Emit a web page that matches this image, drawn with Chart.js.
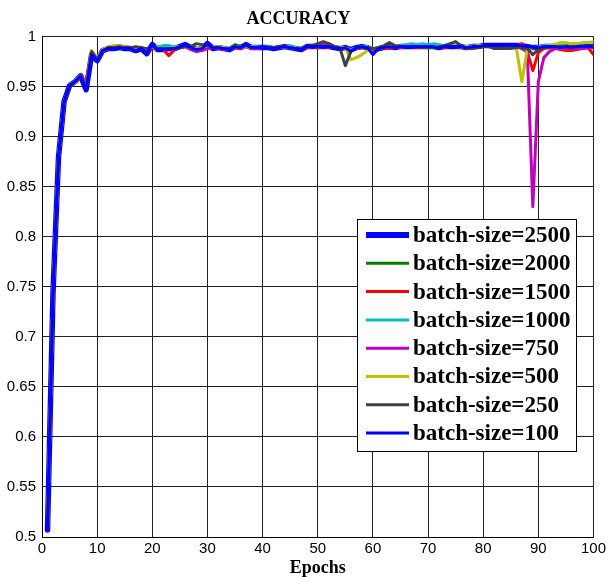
<!DOCTYPE html>
<html>
<head>
<meta charset="utf-8">
<script src="https://cdn.jsdelivr.net/npm/chart.js@4/dist/chart.umd.min.js"></script>
<style>
  body { margin: 0; background: #fff; }
  #wrap { width: 609px; height: 577px; }
</style>
</head>
<body>
<div id="wrap"><canvas id="acc"></canvas></div>
<script>
var epochs = [1,2,3,4,5,6,7,8,9,10,11,12,13,14,15,16,17,18,19,20,
  21,22,23,24,25,26,27,28,29,30,31,32,33,34,35,36,37,38,39,40,
  41,42,43,44,45,46,47,48,49,50,51,52,53,54,55,56,57,58,59,60,
  61,62,63,64,65,66,67,68,69,70,71,72,73,74,75,76,77,78,79,80,
  81,82,83,84,85,86,87,88,89,90,91,92,93,94,95,96,97,98,99,100];

var xTicks = [0, 10, 20, 30, 40, 50, 60, 70, 80, 90, 100];
var yTicks = [0.5, 0.55, 0.6, 0.65, 0.7, 0.75, 0.8, 0.85, 0.9, 0.95, 1];

var names = ['batch-size=2500', 'batch-size=2000', 'batch-size=1500', 'batch-size=1000',
  'batch-size=750', 'batch-size=500', 'batch-size=250', 'batch-size=100'];

var s2500 = [0.507,0.745,0.880,0.935,0.951,0.955,0.961,0.947,0.982,0.976,
  0.986,0.988,0.988,0.989,0.988,0.988,0.986,0.988,0.983,0.992,
  0.987,0.987,0.988,0.988,0.990,0.992,0.989,0.987,0.988,0.993,
  0.988,0.989,0.988,0.987,0.990,0.989,0.992,0.989,0.989,0.989,
  0.989,0.988,0.989,0.990,0.989,0.988,0.987,0.990,0.990,0.990,
  0.990,0.990,0.989,0.988,0.989,0.987,0.989,0.990,0.989,0.986,
  0.988,0.989,0.990,0.989,0.990,0.990,0.990,0.990,0.990,0.990,
  0.990,0.989,0.990,0.990,0.990,0.990,0.989,0.990,0.990,0.991,
  0.991,0.991,0.991,0.991,0.991,0.991,0.991,0.990,0.989,0.989,
  0.990,0.990,0.990,0.989,0.990,0.989,0.990,0.990,0.990,0.990];

var s2000 = [0.507,0.744,0.879,0.934,0.950,0.955,0.960,0.950,0.984,0.978,
  0.986,0.988,0.989,0.990,0.989,0.988,0.987,0.989,0.986,0.990,
  0.988,0.988,0.989,0.988,0.990,0.991,0.990,0.988,0.989,0.991,
  0.989,0.990,0.989,0.988,0.992,0.990,0.991,0.989,0.990,0.989,
  0.990,0.989,0.989,0.990,0.990,0.989,0.988,0.990,0.991,0.990,
  0.990,0.991,0.990,0.989,0.988,0.987,0.989,0.990,0.990,0.987,
  0.989,0.990,0.990,0.990,0.991,0.990,0.990,0.991,0.990,0.990,
  0.991,0.990,0.990,0.991,0.990,0.990,0.990,0.990,0.991,0.991,
  0.991,0.990,0.991,0.991,0.990,0.990,0.990,0.989,0.988,0.989,
  0.990,0.990,0.991,0.990,0.990,0.990,0.991,0.990,0.990,0.991];

var s1500 = [0.507,0.746,0.880,0.933,0.950,0.954,0.959,0.954,0.985,0.977,
  0.985,0.988,0.989,0.989,0.988,0.988,0.987,0.988,0.986,0.990,
  0.988,0.987,0.981,0.987,0.989,0.990,0.988,0.987,0.988,0.990,
  0.988,0.989,0.988,0.988,0.989,0.988,0.990,0.988,0.989,0.989,
  0.989,0.988,0.989,0.989,0.990,0.988,0.988,0.989,0.990,0.989,
  0.990,0.989,0.990,0.988,0.988,0.987,0.988,0.989,0.989,0.986,
  0.988,0.988,0.988,0.989,0.989,0.990,0.990,0.989,0.990,0.989,
  0.990,0.989,0.989,0.990,0.990,0.989,0.989,0.990,0.990,0.991,
  0.991,0.990,0.990,0.991,0.990,0.991,0.993,0.985,0.966,0.984,
  0.988,0.989,0.988,0.987,0.986,0.986,0.987,0.988,0.989,0.982];

var s1000 = [0.507,0.745,0.881,0.935,0.951,0.956,0.962,0.949,0.983,0.976,
  0.986,0.988,0.989,0.989,0.988,0.988,0.987,0.988,0.987,0.990,
  0.990,0.991,0.991,0.990,0.990,0.991,0.989,0.988,0.989,0.991,
  0.989,0.989,0.989,0.988,0.990,0.989,0.991,0.990,0.990,0.989,
  0.990,0.989,0.990,0.990,0.991,0.989,0.988,0.990,0.990,0.990,
  0.990,0.990,0.990,0.989,0.989,0.987,0.989,0.990,0.990,0.986,
  0.988,0.989,0.989,0.990,0.991,0.992,0.993,0.992,0.993,0.992,
  0.993,0.992,0.991,0.992,0.991,0.990,0.990,0.991,0.990,0.991,
  0.991,0.991,0.990,0.991,0.991,0.990,0.990,0.989,0.989,0.990,
  0.991,0.991,0.992,0.993,0.991,0.990,0.990,0.991,0.990,0.990];

var s750 = [0.507,0.746,0.879,0.934,0.952,0.955,0.962,0.952,0.984,0.978,
  0.986,0.989,0.990,0.991,0.990,0.989,0.987,0.988,0.985,0.989,
  0.987,0.987,0.988,0.988,0.989,0.990,0.987,0.985,0.986,0.988,
  0.988,0.988,0.987,0.987,0.989,0.988,0.990,0.988,0.988,0.989,
  0.989,0.988,0.989,0.989,0.989,0.988,0.988,0.989,0.990,0.991,
  0.992,0.993,0.990,0.989,0.988,0.986,0.988,0.989,0.989,0.986,
  0.988,0.989,0.989,0.989,0.990,0.990,0.990,0.990,0.990,0.990,
  0.990,0.989,0.990,0.990,0.990,0.990,0.989,0.990,0.990,0.990,
  0.991,0.990,0.990,0.990,0.990,0.990,0.988,0.985,0.830,0.955,
  0.979,0.985,0.988,0.988,0.989,0.988,0.988,0.988,0.989,0.989];

var s500 = [0.507,0.745,0.880,0.935,0.951,0.954,0.960,0.951,0.986,0.979,
  0.987,0.990,0.991,0.991,0.990,0.989,0.988,0.989,0.987,0.990,
  0.988,0.988,0.988,0.989,0.990,0.991,0.989,0.988,0.989,0.991,
  0.989,0.990,0.989,0.988,0.990,0.989,0.990,0.989,0.989,0.989,
  0.989,0.989,0.989,0.990,0.989,0.988,0.988,0.990,0.990,0.990,
  0.990,0.990,0.990,0.989,0.989,0.977,0.979,0.982,0.986,0.988,
  0.989,0.989,0.990,0.990,0.990,0.990,0.990,0.990,0.990,0.990,
  0.990,0.990,0.990,0.990,0.991,0.990,0.990,0.990,0.991,0.991,
  0.991,0.991,0.991,0.991,0.990,0.989,0.955,0.987,0.989,0.989,
  0.990,0.991,0.992,0.994,0.994,0.993,0.993,0.994,0.994,0.995];

var s250 = [0.507,0.744,0.879,0.934,0.950,0.955,0.961,0.950,0.985,0.977,
  0.986,0.989,0.989,0.990,0.989,0.989,0.990,0.989,0.988,0.990,
  0.988,0.988,0.988,0.988,0.989,0.990,0.990,0.993,0.992,0.991,
  0.989,0.989,0.988,0.988,0.990,0.989,0.991,0.989,0.989,0.989,
  0.989,0.989,0.990,0.990,0.989,0.988,0.988,0.990,0.991,0.993,
  0.995,0.993,0.990,0.989,0.971,0.985,0.989,0.989,0.989,0.988,
  0.989,0.991,0.994,0.991,0.990,0.990,0.990,0.990,0.989,0.989,
  0.989,0.990,0.991,0.993,0.995,0.991,0.988,0.988,0.989,0.990,
  0.990,0.988,0.988,0.988,0.988,0.989,0.989,0.988,0.982,0.987,
  0.989,0.989,0.990,0.990,0.990,0.990,0.990,0.990,0.991,0.990];

var s100 = [0.507,0.745,0.880,0.935,0.951,0.955,0.960,0.946,0.982,0.976,
  0.986,0.988,0.988,0.989,0.988,0.988,0.986,0.988,0.984,0.992,
  0.987,0.987,0.988,0.988,0.990,0.992,0.989,0.987,0.988,0.993,
  0.988,0.989,0.988,0.987,0.990,0.989,0.992,0.989,0.989,0.989,
  0.989,0.988,0.989,0.990,0.989,0.988,0.987,0.990,0.990,0.990,
  0.990,0.990,0.989,0.988,0.989,0.985,0.989,0.990,0.989,0.982,
  0.988,0.989,0.990,0.989,0.990,0.990,0.990,0.990,0.990,0.990,
  0.990,0.989,0.990,0.990,0.990,0.990,0.989,0.990,0.990,0.991,
  0.991,0.991,0.991,0.991,0.991,0.991,0.991,0.990,0.989,0.989,
  0.990,0.990,0.990,0.989,0.990,0.989,0.990,0.990,0.990,0.990];

var series = [s2500, s2000, s1500, s1000, s750, s500, s250, s100];
var colors = ['#0000ff', '#008000', '#ff0000', '#00bfbf', '#bf00bf', '#bfbf00', '#404040', '#0000ff'];
var widths = [5.5, 3, 3, 3, 3, 3, 3, 3];

var datasets = series.map(function (vals, i) {
  return {
    label: names[i],
    data: epochs.map(function (e, j) { return { x: e, y: vals[j] }; }),
    borderColor: colors[i],
    borderWidth: widths[i],
    borderJoinStyle: 'round',
    borderCapStyle: 'round',
    pointRadius: 0,
    tension: 0,
    fill: false,
    order: series.length - 1 - i
  };
});

// legend box drawn inside the plot, like the matlab one
var boxLegend = {
  id: 'boxLegend',
  afterDatasetsDraw: function (chart) {
    var ctx = chart.ctx;
    ctx.save();
    ctx.fillStyle = '#fff';
    ctx.fillRect(357, 219, 219, 232);
    ctx.strokeStyle = '#000';
    ctx.lineWidth = 1;
    ctx.strokeRect(357.5, 219.5, 219, 232);
    ctx.font = 'bold 23px "Liberation Serif", "Times New Roman", serif';
    ctx.textBaseline = 'middle';
    ctx.fillStyle = '#000';
    chart.data.datasets.forEach(function (ds, i) {
      var y = 235 + i * 28.3;
      ctx.strokeStyle = ds.borderColor;
      ctx.lineWidth = i === 0 ? 6 : 3;
      ctx.beginPath();
      ctx.moveTo(366, y);
      ctx.lineTo(409, y);
      ctx.stroke();
      ctx.fillText(ds.label, 413, y + 1);
    });
    ctx.restore();
  }
};

var tickFont = { family: '"Liberation Sans Narrow", "Liberation Sans", Arial, sans-serif', size: 15 };

new Chart(document.getElementById('acc'), {
  type: 'line',
  data: { datasets: datasets },
  options: {
    responsive: true,
    maintainAspectRatio: false,
    animation: false,
    layout: { padding: { left: 0, right: 12, top: 0, bottom: 0 } },
    plugins: {
      legend: { display: false },
      tooltip: { enabled: false },
      title: {
        display: true,
        text: 'ACCURACY',
        color: '#000',
        font: { family: '"Liberation Serif", "Times New Roman", serif', size: 18, weight: 'bold' },
        padding: { top: 9, bottom: 6 }
      }
    },
    scales: {
      x: {
        type: 'linear',
        min: 0,
        max: 100,
        afterBuildTicks: function (axis) { axis.ticks = xTicks.map(function (v) { return { value: v }; }); },
        afterFit: function (scale) { scale.height = 40; },
        ticks: { color: '#000', font: tickFont, padding: 3, maxRotation: 0 },
        grid: { color: '#222', lineWidth: 1, drawTicks: false },
        border: { color: '#000', width: 1 },
        title: {
          display: true,
          text: 'Epochs',
          color: '#000',
          font: { family: '"Liberation Serif", "Times New Roman", serif', size: 18, weight: 'bold' },
          padding: { top: 0, bottom: -2 }
        }
      },
      y: {
        min: 0.5,
        max: 1,
        afterBuildTicks: function (axis) { axis.ticks = yTicks.map(function (v) { return { value: v }; }); },
        afterFit: function (scale) { scale.width = 42; },
        ticks: {
          color: '#000',
          font: tickFont,
          padding: 6,
          callback: function (v) { return String(+v.toFixed(2)); }
        },
        grid: { color: '#222', lineWidth: 1, drawTicks: false },
        border: { color: '#000', width: 1 }
      }
    }
  },
  plugins: [boxLegend]
});
</script>
</body>
</html>
